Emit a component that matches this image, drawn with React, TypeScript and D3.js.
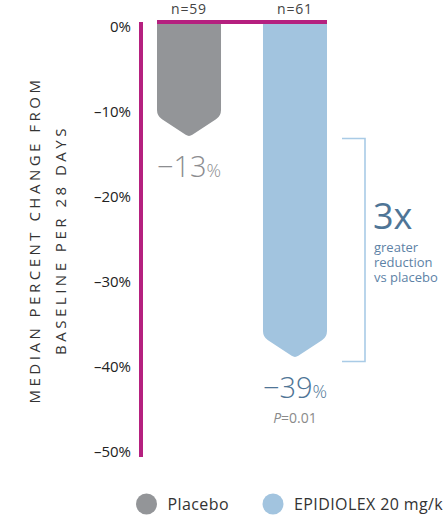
import React from "react";
import * as d3 from "d3";

const categories = ["Placebo", "EPIDIOLEX 20 mg/kg/day"];
const values = [-13, -39];
const nLabels = ["n=59", "n=61"];
const valueLabels = ["\u221213", "\u221239"];
const ticks = [0, -10, -20, -30, -40, -50];
const colors = ["#939598", "#a2c4df"];
const labelColors = ["#8c8d90", "#4f7596"];

const W = 443;
const H = 518;
const FONT = "'Open Sans', 'Noto Sans', sans-serif";

function barPath(x0: number, x1: number, yTop: number, yTip: number) {
  const h = 21;
  const yS = yTip - h;
  const xc = (x0 + x1) / 2;
  const r = 6;
  const rt = 4;
  const half = (x1 - x0) / 2;
  const len = Math.hypot(half, h);
  const ux = half / len;
  const uy = h / len;
  const p = d3.path();
  p.moveTo(x0, yTop);
  p.lineTo(x1, yTop);
  p.lineTo(x1, yS - r);
  p.quadraticCurveTo(x1, yS, x1 - ux * r, yS + uy * r);
  p.lineTo(xc + ux * rt, yTip - uy * rt);
  p.quadraticCurveTo(xc, yTip, xc - ux * rt, yTip - uy * rt);
  p.lineTo(x0 + ux * r, yS + uy * r);
  p.quadraticCurveTo(x0, yS, x0, yS - r);
  p.closePath();
  return p.toString();
}

export default function App() {
  const y = d3.scaleLinear().domain([0, -50]).range([26.5, 451.5]);
  const x = d3.scaleBand().domain(categories).range([157, 327]).paddingInner(0.396).paddingOuter(0);
  const axisX = 141;
  const topY = 22;

  return (
    <svg
      width={W}
      height={H}
      style={{ position: "absolute", left: 0, top: 0, background: "#fff" }}
      fontFamily={FONT}
    >
      {/* Y axis title */}
      <g fill="#333" fontSize={15} fontWeight={400}>
        <text transform={`translate(40,240) rotate(-90)`} textAnchor="middle" letterSpacing={3.5}>
          MEDIAN PERCENT CHANGE FROM
        </text>
        <text transform={`translate(66,240) rotate(-90)`} textAnchor="middle" letterSpacing={3.5}>
          BASELINE PER 28 DAYS
        </text>
      </g>

      {/* tick labels */}
      {ticks.map((t) => (
        <text
          key={t}
          x={131}
          y={y(t) + 5.5}
          textAnchor="end"
          fontSize={15}
          fontWeight={400}
          fill="#222"
        >
          {t === 0 ? "0%" : `\u2013${Math.abs(t)}%`}
        </text>
      ))}

      {/* bars */}
      {categories.map((c, i) => {
        const x0 = x(c)!;
        const x1 = x0 + x.bandwidth();
        return <path key={c} d={barPath(x0, x1, topY, y(values[i]))} fill={colors[i]} />;
      })}

      {/* axis lines */}
      <line x1={axisX} x2={axisX} y1={topY} y2={y(-50) + 5.5} stroke="#b5207f" strokeWidth={4} />
      <line x1={157} x2={327} y1={topY} y2={topY} stroke="#b5207f" strokeWidth={4} />

      {/* n labels */}
      {categories.map((c, i) => (
        <text
          key={c}
          x={x(c)! + x.bandwidth() / 2}
          y={14}
          textAnchor="middle"
          fontSize={14}
          letterSpacing={0.8}
          fill="#444"
        >
          {nLabels[i]}
        </text>
      ))}

      {/* value labels */}
      {categories.map((c, i) => (
        <text
          key={c}
          x={x(c)! + x.bandwidth() / 2}
          y={y(values[i]) + 40}
          textAnchor="middle"
          fill={labelColors[i]}
          fontWeight={300}
        >
          <tspan fontSize={29}>{valueLabels[i]}</tspan>
          <tspan fontSize={18}>%</tspan>
        </text>
      ))}

      {/* P value */}
      <text
        x={x(categories[1])! + x.bandwidth() / 2}
        y={423}
        textAnchor="middle"
        fontSize={14}
        fill="#8a8a8a"
      >
        <tspan fontStyle="italic">P</tspan>=0.01
      </text>

      {/* bracket */}
      <path
        d={`M342,${y(values[0]) + 1.5}H365V${y(values[1]) + 3.5}H342`}
        fill="none"
        stroke="#a9cbe6"
        strokeWidth={1.6}
      />
      <text x={373} y={229} fontSize={36} fill="#4f7596" fontWeight={400}>
        3x
      </text>
      <g fontSize={13} fill="#5d82a6">
        <text x={374} y={252}>greater</text>
        <text x={374} y={267}>reduction</text>
        <text x={374} y={282}>vs placebo</text>
      </g>

      {/* legend */}
      {categories.map((c, i) => {
        const cx = i === 0 ? 146.5 : 273;
        return (
          <g key={c}>
            <circle cx={cx} cy={504} r={10.5} fill={colors[i]} />
            <text x={cx + 21} y={509.5} fontSize={16} letterSpacing={0.4} fill="#333">
              {c}
            </text>
          </g>
        );
      })}
    </svg>
  );
}
